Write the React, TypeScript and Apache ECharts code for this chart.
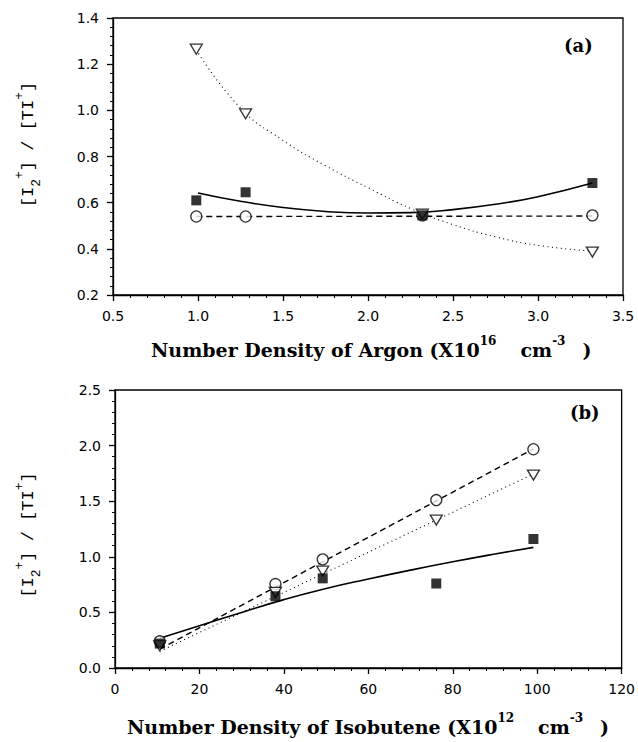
import React, { useEffect, useRef } from "react";
import * as echarts from "echarts";

// ---- Panel (a): Argon ----
const argonX = [0.99, 1.28, 2.32, 3.32];
const argonSquares = [0.61, 0.645, 0.545, 0.685];
const argonCircles = [0.54, 0.54, 0.545, 0.545];
const argonTriangles = [1.265, 0.985, 0.55, 0.386];

const argonSolidFitX = [1.0, 1.25, 1.5, 1.75, 2.0, 2.25, 2.5, 2.75, 3.0, 3.32];
const argonSolidFitY = [0.642, 0.606, 0.579, 0.562, 0.555, 0.557, 0.57, 0.593, 0.626, 0.685];
const argonDashedFitX = [0.99, 3.32];
const argonDashedFitY = [0.54, 0.542];
const argonDottedFitX = [0.99, 1.25, 1.5, 1.75, 2.0, 2.25, 2.5, 2.75, 3.0, 3.32];
const argonDottedFitY = [1.262, 1.01, 0.87, 0.76, 0.665, 0.575, 0.505, 0.452, 0.415, 0.39];

// ---- Panel (b): Isobutene ----
const isoX = [10.6, 38.0, 49.2, 76.1, 99.1];
const isoCircles = [0.24, 0.755, 0.977, 1.51, 1.967];
const isoTriangles = [0.2, 0.68, 0.872, 1.33, 1.735];
const isoSquares = [0.22, 0.645, 0.806, 0.76, 1.16];

const isoDashedFitX = [10.6, 99.1];
const isoDashedFitY = [0.17, 1.97];
const isoDottedFitX = [10.6, 99.1];
const isoDottedFitY = [0.15, 1.745];
const isoSolidFitX = [10.6, 20, 30, 40, 50, 60, 70, 80, 90, 99.1];
const isoSolidFitY = [0.267, 0.38, 0.5, 0.615, 0.715, 0.8, 0.88, 0.955, 1.025, 1.085];

const pairs = (xs: number[], ys: number[]) => xs.map((x, i) => [x, ys[i]]);

const TITLE_FONT = "DejaVu Serif";
const LABEL_FONT = "DejaVu Sans";

export default function App() {
  const ref = useRef<HTMLDivElement>(null);
  useEffect(() => {
    if (!ref.current) return;
    const chart = echarts.init(ref.current, null, { renderer: "svg" });

    const axisCommon = {
      axisLine: { show: true, onZero: false, lineStyle: { color: "#000", width: 1.3 } },
      axisTick: { show: true, length: 6, lineStyle: { color: "#000", width: 1.3 } },
      minorTick: { show: true, splitNumber: 5, length: 3, lineStyle: { color: "#000", width: 1 } },
      splitLine: { show: false },
      minorSplitLine: { show: false },
    };
    const labelCommon = { color: "#000", fontFamily: LABEL_FONT, fontSize: 14 };

    const xRich = {
      m: { fontFamily: TITLE_FONT, fontWeight: "bold", fontSize: 19, color: "#000", lineHeight: 30 },
      c: { fontFamily: TITLE_FONT, fontWeight: "bold", fontSize: 19, color: "#000", lineHeight: 30, padding: [0, 0, 0, 24] },
      p: { fontFamily: TITLE_FONT, fontWeight: "bold", fontSize: 19, color: "#000", lineHeight: 30, padding: [0, 0, 0, 17] },
      s: { fontFamily: TITLE_FONT, fontWeight: "bold", fontSize: 12, color: "#000", verticalAlign: "top" },
    };
    const yRich = {
      m: { fontFamily: "Liberation Mono", fontSize: 17, color: "#000", lineHeight: 30 },
      sup: { fontFamily: "Liberation Mono", fontSize: 13, color: "#000", verticalAlign: "top" },
      sub: { fontFamily: "Liberation Mono", fontSize: 13, color: "#000", verticalAlign: "bottom" },
    };
    const yName = "{m|[I}{sub|2}{sup|+}{m|] / [TI}{sup|+}{m|]}";

    const lineSeries = (xs: number[], ys: number[], idx: number, type: any, width: number, smooth: boolean) => ({
      type: "line",
      xAxisIndex: idx,
      yAxisIndex: idx,
      data: pairs(xs, ys),
      showSymbol: false,
      smooth,
      lineStyle: { color: "#000", width, type },
      z: 2,
    });
    const circleSeries = (xs: number[], ys: number[], idx: number) => ({
      type: "scatter",
      xAxisIndex: idx,
      yAxisIndex: idx,
      data: pairs(xs, ys),
      symbol: "circle",
      symbolSize: 11,
      itemStyle: { color: "#fff", borderColor: "#000", borderWidth: 1.3 },
      z: 3,
    });
    const triSeries = (xs: number[], ys: number[], idx: number) => ({
      type: "scatter",
      xAxisIndex: idx,
      yAxisIndex: idx,
      data: pairs(xs, ys),
      symbol: "triangle",
      symbolRotate: 180,
      symbolSize: [12, 10],
      itemStyle: { color: "#fff", borderColor: "#000", borderWidth: 1.3 },
      z: 4,
    });
    const squareSeries = (xs: number[], ys: number[], idx: number) => ({
      type: "scatter",
      xAxisIndex: idx,
      yAxisIndex: idx,
      data: pairs(xs, ys),
      symbol: "rect",
      symbolSize: 10,
      itemStyle: { color: "#000" },
      z: 5,
    });

    chart.setOption({
      animation: false,
      backgroundColor: "#fff",
      grid: [
        { left: 113, top: 18, width: 510, height: 277, show: true, borderColor: "#000", borderWidth: 1.3 },
        { left: 115, top: 390, width: 510, height: 278, show: true, borderColor: "#000", borderWidth: 1.3 },
      ],
      xAxis: [
        {
          type: "value", gridIndex: 0, min: 0.5, max: 3.5, interval: 0.5, ...axisCommon,
          axisLabel: { ...labelCommon, margin: 14, formatter: (v: number) => v.toFixed(1) },
        },
        {
          type: "value", gridIndex: 1, min: 0, max: 120, interval: 20, ...axisCommon,
          axisLabel: { ...labelCommon, margin: 14 },
        },
      ],
      yAxis: [
        {
          type: "value", gridIndex: 0, min: 0.2, max: 1.4, interval: 0.2, ...axisCommon,
          axisLabel: { ...labelCommon, margin: 14, formatter: (v: number) => v.toFixed(1) },
          name: yName, nameLocation: "middle", nameRotate: 90, nameGap: 70,
          nameTextStyle: { rich: yRich, padding: [0, 0, 0, 24] },
        },
        {
          type: "value", gridIndex: 1, min: 0, max: 2.5, interval: 0.5, ...axisCommon,
          axisLabel: { ...labelCommon, margin: 14, formatter: (v: number) => v.toFixed(1) },
          name: yName, nameLocation: "middle", nameRotate: 90, nameGap: 72,
          nameTextStyle: { rich: yRich, padding: [0, 12, 0, 0] },
        },
      ],
      graphic: [
        {
          type: "text", left: 151, top: 335,
          style: { text: "{m|Number Density of Argon (X10}{s|16}{c|cm}{s|-3}{p|)}", rich: xRich },
        },
        {
          type: "text", left: 127, top: 712,
          style: { text: "{m|Number Density of Isobutene (X10}{s|12}{c|cm}{s|-3}{p|)}", rich: xRich },
        },
        { type: "text", left: 564, top: 36, style: { text: "(a)", font: `bold 18px "${TITLE_FONT}"`, fill: "#000" } },
        { type: "text", left: 570, top: 403, style: { text: "(b)", font: `bold 18px "${TITLE_FONT}"`, fill: "#000" } },
      ],
      series: [
        lineSeries(argonSolidFitX, argonSolidFitY, 0, "solid", 1.6, true),
        lineSeries(argonDashedFitX, argonDashedFitY, 0, [6, 4], 1.4, false),
        lineSeries(argonDottedFitX, argonDottedFitY, 0, [1, 3.5], 1.1, true),
        circleSeries(argonX, argonCircles, 0),
        triSeries(argonX, argonTriangles, 0),
        squareSeries(argonX, argonSquares, 0),

        lineSeries(isoSolidFitX, isoSolidFitY, 1, "solid", 1.6, true),
        lineSeries(isoDashedFitX, isoDashedFitY, 1, [6, 4], 1.4, false),
        lineSeries(isoDottedFitX, isoDottedFitY, 1, [1, 3.5], 1.1, false),
        circleSeries(isoX, isoCircles, 1),
        triSeries(isoX, isoTriangles, 1),
        squareSeries(isoX, isoSquares, 1),
      ],
    });
    return () => chart.dispose();
  }, []);
  return (
    <div
      ref={ref}
      style={{ position: "absolute", left: 0, top: 0, width: 638, height: 742, background: "#fff" }}
    />
  );
}
